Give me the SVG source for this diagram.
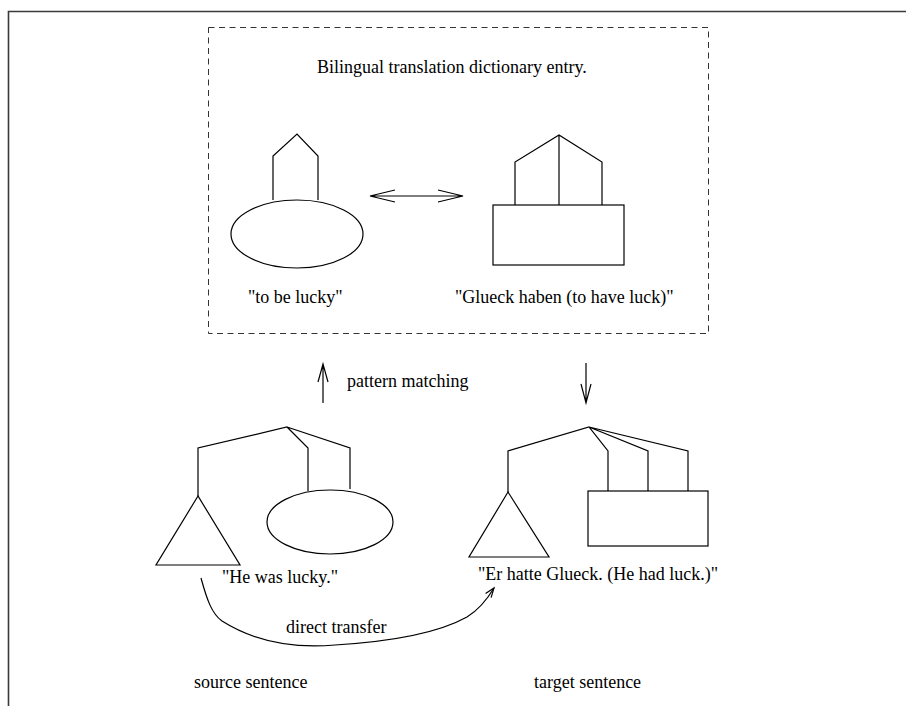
<svg xmlns="http://www.w3.org/2000/svg" width="906" height="706" viewBox="0 0 906 706">
<style>
.t{font-family:"Liberation Serif","Times New Roman",serif;font-size:18px;fill:#000}
.s{fill:none;stroke:#000;stroke-width:1.2}
.a{fill:none;stroke:#000;stroke-width:1.2;stroke-linejoin:miter}
</style>
<rect width="906" height="706" fill="#fff"/>
<g id="frame">
<path d="M8.5,706 V11.5 H906" fill="none" stroke="#3a3a3a" stroke-width="1.6"/>
</g>
<g id="dictionary-box">
<rect x="208.5" y="27.5" width="500" height="306" fill="none" stroke="#333" stroke-width="1" stroke-dasharray="6,4.5"/>
<text class="t" x="317" y="73">Bilingual translation dictionary entry.</text>
</g>
<g id="dict-source">
<ellipse class="s" cx="297" cy="234" rx="66" ry="34"/>
<path class="s" d="M273,200 V156 L297,134 L318,156 V200"/>
<text class="t" x="248" y="303">"to be lucky"</text>
</g>
<g id="dict-target">
<rect class="s" x="493" y="205" width="131" height="60"/>
<path class="s" d="M515,205 V162 L559,135 L602,162 V205 M559,135 V205"/>
<text class="t" x="455" y="303">"Glueck haben (to have luck)"</text>
</g>
<g id="source-tree">
<path class="s" d="M198,496 V448 L287,427 L308,448 V491 M287,427 L350,448 V489"/>
<path class="s" d="M198,496 L156,565 H240 Z"/>
<ellipse class="s" cx="330" cy="522" rx="63" ry="32"/>
<text class="t" x="222" y="583">"He was lucky."</text>
</g>
<g id="target-tree">
<path class="s" d="M508,492 V451 L589,427 L608,451 V491 M589,427 L648,451 V491 M589,427 L688,451 V491"/>
<path class="s" d="M508,492 L469,557 H549 Z"/>
<rect class="s" x="588" y="491" width="120" height="55"/>
<text class="t" x="478" y="580">"Er hatte Glueck. (He had luck.)"</text>
</g>
<g id="labels">
<text class="t" x="347" y="387">pattern matching</text>
<text class="t" x="286" y="633">direct transfer</text>
<text class="t" x="194" y="688">source sentence</text>
<text class="t" x="534" y="688">target sentence</text>
</g>
<g id="connectors">
<path class="a" d="M370,196 H463 M395,190 L370,196 L395,202 M438,190 L463,196 L438,202"/>
<path class="a" d="M323,403 V364 M318,382 L323,364 L328,382"/>
<path class="a" d="M586,363 V403 M581,384 L586,403 L591,384"/>
<path class="a" d="M201,578 C207,600 212,614 222,621 C260,645 300,648 335,645 C400,641 440,632 467,617 C480,609 488,598 494,588"/>
<path class="a" d="M485.6,593.5 L494,588 L491.1,597.6"/>
</g>
</svg>
